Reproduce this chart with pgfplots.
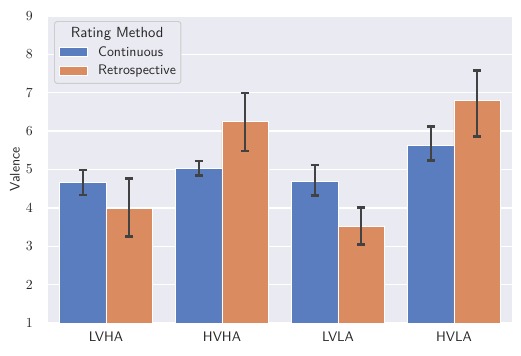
\documentclass[border=0pt]{standalone}
\usepackage{fontspec}
\usepackage{pgfplots}
\usepackage{pgfplotstable}
\pgfplotsset{compat=1.18}
\renewcommand{\familydefault}{\sfdefault}
\definecolor{bgcol}{HTML}{EAEAF2}
\definecolor{cblue}{HTML}{597DBF}
\definecolor{corange}{HTML}{DA8B5F}
\definecolor{errcol}{HTML}{424242}
\definecolor{txtcol}{HTML}{262626}
\definecolor{legframe}{HTML}{CCCCCC}

\pgfplotstableread{
x y ep em
0 4.65 0.34 0.32
1 5.02 0.20 0.18
2 4.70 0.42 0.38
3 5.63 0.49 0.39
}\cont
\pgfplotstableread{
x y ep em
0 3.99 0.77 0.73
1 6.26 0.73 0.78
2 3.51 0.50 0.47
3 6.79 0.79 0.93
}\retro

\pgfplotsset{myerr/.style={
  error bars/y dir=both, error bars/y explicit,
  error bars/error bar style={line width=1.8bp, errcol},
  error bars/error mark options={errcol, line width=1.8bp, mark size=2.9bp, rotate=90}}}

\begin{document}
\begin{tikzpicture}
\begin{axis}[
  scale only axis,
  width=334.08bp, height=221.04bp,
  xmin=-0.5, xmax=3.5, ymin=1, ymax=9,
  ybar=0pt, bar width=0.4,
  axis background/.style={fill=bgcol},
  axis line style={draw=none},
  major tick length=0pt,
  ymajorgrids, grid style={white, line width=1bp},
  xtick={0,1,2,3},
  xticklabels={LVHA,HVHA,LVLA,HVLA},
  ytick={1,2,...,9},
  tick label style={text=txtcol, font=\fontsize{10}{12}\selectfont},
  xticklabel style={yshift=-3.2bp},
  yticklabel style={xshift=-7.5bp},
  ylabel={Valence},
  ylabel style={at={(axis description cs:-0.0711,0.5)}, anchor=center, text=txtcol, font=\fontsize{10}{12}\selectfont},
  legend cell align=left,
  legend style={at={(axis description cs:0,1)}, anchor=north west,
    xshift=4.32bp, yshift=-3.6bp,
    draw=legframe, fill=bgcol, rounded corners=2bp, line width=0.7bp,
    inner xsep=3.6bp, inner ysep=2.35bp,
    column sep=7.4bp, row sep=0pt,
    text=txtcol, font=\fontsize{10}{12}\selectfont,
    nodes={inner sep=0pt, text height=9.5bp, text depth=3.8bp}},
]
\addlegendimage{empty legend}
\addlegendentry{\hspace*{-19.7bp}\fontsize{10.6}{12}\selectfont Rating Method}
\addplot[fill=cblue, draw=white, line width=0.7bp, myerr,
  legend image code/.code={\draw[sharp corners, fill=cblue, draw=white, line width=0.5bp] (0bp,-3.0bp) rectangle (20bp,3.4bp);}]
  table[x=x, y=y, y error plus=ep, y error minus=em] {\cont};
\addlegendentry{Continuous}
\addplot[fill=corange, draw=white, line width=0.7bp, myerr,
  legend image code/.code={\draw[sharp corners, fill=corange, draw=white, line width=0.5bp] (0bp,-3.0bp) rectangle (20bp,3.4bp);}]
  table[x=x, y=y, y error plus=ep, y error minus=em] {\retro};
\addlegendentry{Retrospective}
\end{axis}
\pgfresetboundingbox
\path (-34.56bp,-23.76bp) rectangle (340.56bp,232.56bp);
\end{tikzpicture}
\end{document}
